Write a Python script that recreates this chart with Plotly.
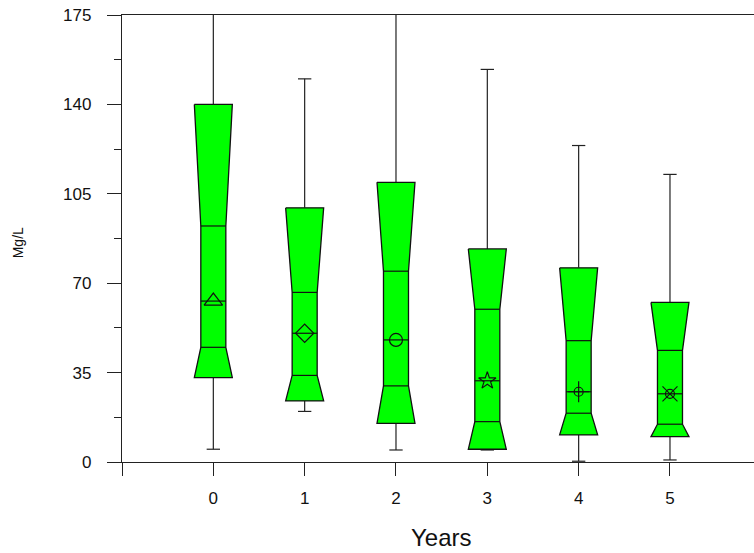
import plotly.graph_objects as go

# Magnesium concentration by year: notched box summaries
years = [0, 1, 2, 3, 4, 5]
upper_whisker = [178, 150, 178, 153.7, 123.9, 112.6]
q3 = [140, 99.5, 109.5, 83.4, 76.0, 62.5]
notch_high = [92.4, 66.4, 74.7, 59.8, 47.5, 43.7]
median = [63.0, 50.4, 47.8, 31.8, 27.5, 26.7]
notch_low = [44.9, 33.9, 29.8, 15.8, 19.1, 14.8]
q1 = [33.0, 23.9, 15.1, 5.0, 10.6, 9.9]
lower_whisker = [5.0, 19.8, 4.7, 4.7, 0.3, 0.8]
marker_symbols = ["triangle-up-open", "diamond-open", "circle-open",
                  "star-open", "circle-open", "circle-open"]
marker_sizes = [16, 14, 13, 13, 9, 9]
marker_overlays = [None, None, None, None, "cross-thin-open", "x-thin-open"]

y_ticks = [0, 35, 70, 105, 140, 175]

BOX_HALF = 0.208      # half width of the box at q1/q3
NOTCH_HALF = 0.137    # half width at the notch waist
CAP_HALF = 0.073      # half width of whisker caps
GREEN = "#00FF00"
EDGE = "#111111"

fig = go.Figure()

for i, yr in enumerate(years):
    xs = [yr - BOX_HALF, yr + BOX_HALF, yr + NOTCH_HALF, yr + NOTCH_HALF,
          yr + BOX_HALF, yr - BOX_HALF, yr - NOTCH_HALF, yr - NOTCH_HALF,
          yr - BOX_HALF]
    ys = [q3[i], q3[i], notch_high[i], notch_low[i], q1[i], q1[i],
          notch_low[i], notch_high[i], q3[i]]

    # whiskers with caps
    fig.add_trace(go.Scatter(
        x=[yr, yr, None, yr - CAP_HALF, yr + CAP_HALF, None,
           yr, yr, None, yr - CAP_HALF, yr + CAP_HALF],
        y=[q3[i], upper_whisker[i], None, upper_whisker[i], upper_whisker[i], None,
           q1[i], lower_whisker[i], None, lower_whisker[i], lower_whisker[i]],
        mode="lines", line=dict(color="#222222", width=1.2),
        hoverinfo="skip", showlegend=False))

    # notched box outline
    fig.add_trace(go.Scatter(
        x=xs, y=ys, mode="lines", fill="toself", fillcolor=GREEN,
        line=dict(color=EDGE, width=1.3), hoverinfo="skip", showlegend=False))

    # notch limits and median
    fig.add_trace(go.Scatter(
        x=[yr - NOTCH_HALF, yr + NOTCH_HALF, None,
           yr - NOTCH_HALF, yr + NOTCH_HALF, None,
           yr - NOTCH_HALF, yr + NOTCH_HALF],
        y=[notch_high[i], notch_high[i], None,
           median[i], median[i], None,
           notch_low[i], notch_low[i]],
        mode="lines", line=dict(color=EDGE, width=1.2),
        hoverinfo="skip", showlegend=False))

    # centre symbol
    fig.add_trace(go.Scatter(
        x=[yr], y=[median[i]], mode="markers",
        marker=dict(symbol=marker_symbols[i], size=marker_sizes[i],
                    line=dict(color=EDGE, width=1.2), color=EDGE),
        hoverinfo="skip", showlegend=False))
    if marker_overlays[i] is not None:
        fig.add_trace(go.Scatter(
            x=[yr], y=[median[i]], mode="markers",
            marker=dict(symbol=marker_overlays[i], size=15,
                        line=dict(color=EDGE, width=1.2), color=EDGE),
            hoverinfo="skip", showlegend=False))

font_family = "Liberation Sans, Arial, sans-serif"

fig.update_layout(
    width=754, height=553,
    margin=dict(l=122, r=0, t=15, b=91),
    paper_bgcolor="white", plot_bgcolor="white",
    font=dict(family=font_family, color="#111111"),
    xaxis=dict(
        range=[-1, 5.92], showgrid=False, zeroline=False,
        showline=True, mirror=True, linecolor="#222222", linewidth=1.3,
        tickmode="array", tickvals=[-1] + years,
        ticktext=[""] + [str(y) for y in years],
        ticks="outside", ticklen=13, tickwidth=1.3, tickcolor="#222222",
        tickfont=dict(size=17), ticklabelstandoff=7,
    ),
    yaxis=dict(
        range=[0, 175], showgrid=False, zeroline=False,
        showline=True, linecolor="#222222", linewidth=1.3,
        tickmode="array", tickvals=y_ticks,
        ticks="outside", ticklen=14, tickwidth=1.3, tickcolor="#222222",
        tickfont=dict(size=17), ticklabelstandoff=12,
        minor=dict(tickmode="array", tickvals=[17.5, 52.5, 87.5, 122.5, 157.5],
                   ticks="outside", ticklen=7, tickwidth=1.3,
                   tickcolor="#222222", showgrid=False),
    ),
    annotations=[
        dict(text="Years", xref="paper", yref="paper", x=0.506, y=-0.168,
             xanchor="center", yanchor="middle", showarrow=False,
             font=dict(size=24, family=font_family, color="#111111")),
        dict(text="Mg/L", xref="paper", yref="paper", x=-0.164, y=0.49,
             xanchor="center", yanchor="middle", showarrow=False, textangle=-90,
             font=dict(size=14, family=font_family, color="#111111")),
    ],
)

fig.write_html("out.html")
